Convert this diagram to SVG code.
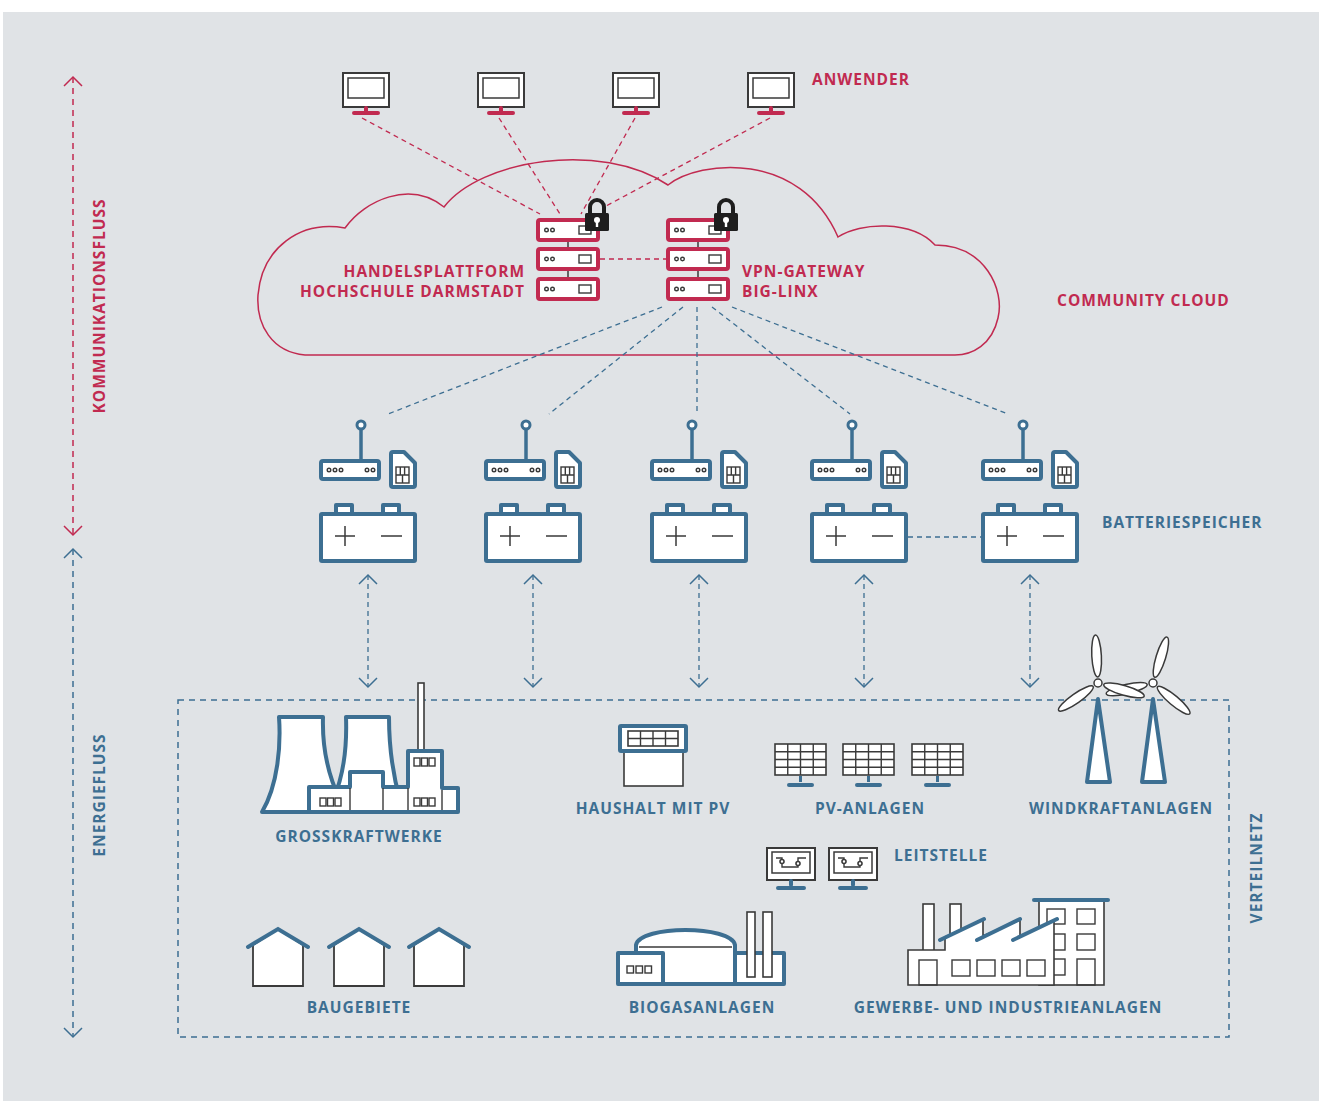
<svg xmlns="http://www.w3.org/2000/svg" width="1319" height="1101" viewBox="0 0 1319 1101">
  <style>
    .lbl{font-family:"Open Sans","DejaVu Sans",sans-serif;font-weight:700;font-size:15.5px;letter-spacing:1px}
    .red{fill:#c12a50}
    .blue{fill:#3d6f92}
    .bt{fill:#fff;stroke:#3d6f92;stroke-width:4;stroke-linejoin:round}
    .rt{fill:#fff;stroke:#c12a50;stroke-width:4;stroke-linejoin:round}
    .ln{fill:#fff;stroke:#3a3a3a;stroke-width:1.6}
    .lnn{fill:none;stroke:#3a3a3a;stroke-width:1.4}
    .dr{fill:none;stroke:#c12a50;stroke-width:1.3;stroke-dasharray:5 4}
    .db{fill:none;stroke:#3d6f92;stroke-width:1.3;stroke-dasharray:5 4}
    .bs{fill:none;stroke:#3d6f92;stroke-width:4;stroke-linecap:round}
    .rs{fill:none;stroke:#c12a50;stroke-width:4;stroke-linecap:round}
    .blade{fill:#fff;stroke:#3a3a3a;stroke-width:1.5}
  </style>
  <defs>
    <marker id="ahr" markerUnits="userSpaceOnUse" markerWidth="24" markerHeight="24" viewBox="-12 -12 24 24" refX="0" refY="0" orient="auto-start-reverse">
      <path d="M-9,-9 L0,0 L-9,9" fill="none" stroke="#c12a50" stroke-width="1.5"/>
    </marker>
    <marker id="ahb" markerUnits="userSpaceOnUse" markerWidth="24" markerHeight="24" viewBox="-12 -12 24 24" refX="0" refY="0" orient="auto-start-reverse">
      <path d="M-9,-9 L0,0 L-9,9" fill="none" stroke="#3d6f92" stroke-width="1.5"/>
    </marker>
    <!-- user workstation -->
    <g id="pc">
      <rect x="-23" y="0" width="46" height="34" fill="#fff" stroke="#3a3a3a" stroke-width="2"/>
      <rect x="-18" y="5" width="36" height="20" fill="#fff" stroke="#3a3a3a" stroke-width="1.5"/>
      <path d="M0,35 V39 M-12,40 H12" class="rs"/>
    </g>
    <!-- control room monitor -->
    <g id="ctl">
      <rect x="-24" y="0" width="48" height="32" fill="#fff" stroke="#3a3a3a" stroke-width="2"/>
      <rect x="-19" y="4" width="38" height="21" fill="#fff" stroke="#3a3a3a" stroke-width="1.5"/>
      <path d="M-15,10 H-9 V19 H7 V10 H15" class="lnn"/>
      <circle cx="-9" cy="13.5" r="2" class="ln" stroke-width="1.2"/>
      <circle cx="7" cy="15.5" r="2" class="ln" stroke-width="1.2"/>
      <path d="M0,33 V37 M-13,40 H13" class="bs"/>
    </g>
    <!-- server unit -->
    <g id="srv">
      <rect x="0" y="0" width="60" height="20" rx="2" class="rt"/>
      <circle cx="8.5" cy="10" r="1.8" class="lnn" stroke-width="1.2"/>
      <circle cx="14.5" cy="10" r="1.8" class="lnn" stroke-width="1.2"/>
      <rect x="41" y="6" width="12" height="8" class="lnn" stroke-width="1.3"/>
    </g>
    <!-- padlock -->
    <g id="lock">
      <path d="M5,1 V-6 a7,7 0 0 1 14,0 V1" fill="none" stroke="#1e1e1e" stroke-width="4"/>
      <rect x="0" y="0" width="24" height="18" rx="1.5" fill="#1e1e1e"/>
      <circle cx="12" cy="7" r="3" fill="#fff"/>
      <rect x="10.8" y="8" width="2.4" height="6" fill="#fff"/>
    </g>
    <!-- modem, SIM card and battery -->
    <g id="store">
      <line x1="361" y1="459" x2="361" y2="429" stroke="#3d6f92" stroke-width="3.5"/>
      <circle cx="361" cy="425" r="4" fill="#fff" stroke="#3d6f92" stroke-width="3"/>
      <rect x="321" y="461" width="58" height="18" rx="2" class="bt"/>
      <g class="lnn" stroke-width="1.2">
        <circle cx="329" cy="470" r="1.8"/><circle cx="335" cy="470" r="1.8"/><circle cx="341" cy="470" r="1.8"/>
        <circle cx="367" cy="470" r="1.8"/><circle cx="373" cy="470" r="1.8"/>
      </g>
      <path d="M393,452 H404 L415,463 V485 Q415,487 413,487 H393 Q391,487 391,485 V454 Q391,452 393,452 Z" class="bt"/>
      <rect x="396" y="467" width="13" height="16" class="lnn" stroke-width="1.2"/>
      <path d="M396,475 H409 M400.3,467 V475 M404.6,467 V475 M402.5,475 V483" class="lnn" stroke-width="1.2"/>
      <rect x="336" y="505" width="16" height="9" class="bt" stroke-width="3.5"/>
      <rect x="383" y="505" width="16" height="9" class="bt" stroke-width="3.5"/>
      <rect x="321" y="514" width="94" height="47" rx="1" class="bt"/>
      <path d="M335,536 H355 M345,526 V546 M381,536 H402" stroke="#3a3a3a" stroke-width="1.5"/>
    </g>
    <!-- detached house -->
    <g id="haus">
      <path d="M253,986 V945 L278,929 L303,945 V986 Z" fill="#fff" stroke="#3a3a3a" stroke-width="1.8"/>
      <path d="M248,947 L278,929 L308,947" class="bs" stroke-width="4.5"/>
    </g>
    <!-- solar panel on stand -->
    <g id="pv">
      <rect x="775" y="744" width="51" height="31" class="ln"/>
      <path d="M787.75,744 V775 M800.5,744 V775 M813.25,744 V775 M775,751.75 H826 M775,759.5 H826 M775,767.25 H826" class="lnn" stroke-width="1.3"/>
      <path d="M800.5,776 V782" stroke="#3d6f92" stroke-width="3"/>
      <path d="M789,785 H812" class="bs"/>
    </g>
    <g id="blade">
      <ellipse cx="27" cy="0" rx="21" ry="4.8" class="blade"/>
    </g>
  </defs>

  <!-- backdrop -->
  <rect x="0" y="0" width="1319" height="1101" fill="#fff"/>
  <rect x="3" y="12" width="1316" height="1089" fill="#e0e3e6"/>

  <!-- community cloud outline -->
  <g id="community-cloud">
    <path d="M305,355 C272,352 256,325 258,295 C262,248 300,220 345,228 C365,200 410,180 444,207 C480,160 600,140 668,185 C700,160 800,150 838,237 C860,222 912,220 935,245 C985,245 1005,290 998,318 C992,345 972,355 955,355 Z" fill="none" stroke="#c12a50" stroke-width="1.5"/>
    <text class="lbl red" x="1057" y="306">COMMUNITY CLOUD</text>
  </g>

  <!-- flow axes -->
  <g id="axes">
    <line x1="73" y1="77" x2="73" y2="535" stroke="#c12a50" stroke-width="1.5" stroke-dasharray="6 5" marker-start="url(#ahr)" marker-end="url(#ahr)"/>
    <line x1="73" y1="549" x2="73" y2="1037" stroke="#3d6f92" stroke-width="1.5" stroke-dasharray="6 5" marker-start="url(#ahb)" marker-end="url(#ahb)"/>
    <text class="lbl red" text-anchor="middle" transform="translate(105,306) rotate(-90)">KOMMUNIKATIONSFLUSS</text>
    <text class="lbl blue" text-anchor="middle" transform="translate(105,795) rotate(-90)">ENERGIEFLUSS</text>
  </g>

  <!-- connectors -->
  <g id="connectors">
    <path d="M362,118 L540,214 M499,118 L560,214 M635,118 L581,214 M770,118 L606,206" class="dr"/>
    <path d="M600,259 H666" class="dr"/>
    <path d="M662,307 L388,414 M683,307 L549,414 M697,307 V414 M712,307 L850,414 M732,307 L1008,414" class="db"/>
    <path d="M908,537 H981" class="db"/>
    <g class="db" stroke-dasharray="4 4" marker-start="url(#ahb)" marker-end="url(#ahb)">
      <line x1="368" y1="575" x2="368" y2="687"/>
      <line x1="533" y1="575" x2="533" y2="687"/>
      <line x1="699" y1="575" x2="699" y2="687"/>
      <line x1="864" y1="575" x2="864" y2="687"/>
      <line x1="1030" y1="575" x2="1030" y2="687"/>
    </g>
  </g>

  <!-- users -->
  <g id="anwender">
    <use href="#pc" transform="translate(366,73)"/>
    <use href="#pc" transform="translate(501,73)"/>
    <use href="#pc" transform="translate(636,73)"/>
    <use href="#pc" transform="translate(771,73)"/>
    <text class="lbl red" x="812" y="85">ANWENDER</text>
  </g>

  <!-- trading platform -->
  <g id="handelsplattform">
    <line x1="568" y1="238" x2="568" y2="282" stroke="#3a3a3a" stroke-width="1.5"/>
    <use href="#srv" x="538" y="220"/>
    <use href="#srv" x="538" y="249"/>
    <use href="#srv" x="538" y="279"/>
    <use href="#lock" x="585" y="213"/>
    <text class="lbl red" text-anchor="end" x="525" y="277">HANDELSPLATTFORM</text>
    <text class="lbl red" text-anchor="end" x="525" y="297">HOCHSCHULE DARMSTADT</text>
  </g>

  <!-- VPN gateway -->
  <g id="vpn-gateway">
    <line x1="698" y1="238" x2="698" y2="282" stroke="#3a3a3a" stroke-width="1.5"/>
    <use href="#srv" x="668" y="220"/>
    <use href="#srv" x="668" y="249"/>
    <use href="#srv" x="668" y="279"/>
    <use href="#lock" x="714" y="213"/>
    <text class="lbl red" x="742" y="277">VPN-GATEWAY</text>
    <text class="lbl red" x="742" y="297">BIG-LINX</text>
  </g>

  <!-- battery storage units -->
  <g id="speicher-1"><use href="#store"/></g>
  <g id="speicher-2"><use href="#store" x="165"/></g>
  <g id="speicher-3"><use href="#store" x="331"/></g>
  <g id="speicher-4"><use href="#store" x="491"/></g>
  <g id="speicher-5"><use href="#store" x="662"/></g>
  <text class="lbl blue" x="1102" y="528">BATTERIESPEICHER</text>

  <!-- distribution grid -->
  <g id="verteilnetz">
    <rect x="178" y="700" width="1051" height="337" fill="none" stroke="#3d6f92" stroke-width="1.5" stroke-dasharray="6 5"/>
    <text class="lbl blue" text-anchor="middle" transform="translate(1262,868) rotate(-90)">VERTEILNETZ</text>
  </g>

  <!-- power plant -->
  <g id="grosskraftwerke">
    <rect x="418" y="683" width="6" height="70" class="ln" stroke-width="1.5"/>
    <path d="M262,812 C278,785 281,745 279,717 H323 C322,750 328,775 340,800 V812 Z" class="bt"/>
    <path d="M333,800 C344,775 347,745 346,717 H389 C389,750 393,775 400,800 V812 Z" class="bt"/>
    <path d="M309,812 V787 H350 V772 H383 V787 H408 V751 H442 V788 H458 V812 Z" class="bt"/>
    <path d="M350,788 V810 M383,788 V810 M408,788 V810 M442,790 V810" class="lnn" stroke-width="1.6"/>
    <g class="lnn" stroke-width="1.3">
      <rect x="320" y="798" width="6" height="8"/><rect x="327.5" y="798" width="6" height="8"/><rect x="335" y="798" width="6" height="8"/>
      <rect x="414" y="758" width="6" height="8"/><rect x="421.5" y="758" width="6" height="8"/><rect x="429" y="758" width="6" height="8"/>
      <rect x="414" y="798" width="6" height="8"/><rect x="421.5" y="798" width="6" height="8"/><rect x="429" y="798" width="6" height="8"/>
    </g>
    <text class="lbl blue" text-anchor="middle" x="359" y="842">GROSSKRAFTWERKE</text>
  </g>

  <!-- household with PV -->
  <g id="haushalt-pv">
    <rect x="624" y="752" width="59" height="34" class="ln"/>
    <rect x="620" y="726" width="66" height="25" rx="1" class="bt"/>
    <rect x="628" y="731" width="50" height="15" class="ln" stroke-width="1.4"/>
    <path d="M640.5,731 V746 M653,731 V746 M665.5,731 V746 M628,738.5 H678" class="lnn" stroke-width="1.3"/>
    <text class="lbl blue" text-anchor="middle" x="653" y="814">HAUSHALT MIT PV</text>
  </g>

  <!-- PV plants -->
  <g id="pv-anlagen">
    <use href="#pv"/>
    <use href="#pv" x="68"/>
    <use href="#pv" x="137"/>
    <text class="lbl blue" text-anchor="middle" x="870" y="814">PV-ANLAGEN</text>
  </g>

  <!-- wind turbines -->
  <g id="windkraftanlagen">
    <path d="M1098,699 L1110,782 H1087 Z" class="bt"/>
    <path d="M1153,699 L1165,782 H1142 Z" class="bt"/>
    <use href="#blade" transform="translate(1098,683) rotate(-93)"/>
    <use href="#blade" transform="translate(1098,683) rotate(145)"/>
    <use href="#blade" transform="translate(1153,683) rotate(167)"/>
    <use href="#blade" transform="translate(1098,683) rotate(16)"/>
    <use href="#blade" transform="translate(1153,683) rotate(-73)"/>
    <use href="#blade" transform="translate(1153,683) rotate(40)"/>
    <circle cx="1098" cy="683" r="4" class="blade"/>
    <circle cx="1153" cy="683" r="4" class="blade"/>
    <text class="lbl blue" text-anchor="middle" x="1121" y="814">WINDKRAFTANLAGEN</text>
  </g>

  <!-- control centre -->
  <g id="leitstelle">
    <use href="#ctl" transform="translate(791,848)"/>
    <use href="#ctl" transform="translate(853,848)"/>
    <text class="lbl blue" x="894" y="861">LEITSTELLE</text>
  </g>

  <!-- building areas -->
  <g id="baugebiete">
    <use href="#haus"/>
    <use href="#haus" x="81"/>
    <use href="#haus" x="161"/>
    <text class="lbl blue" text-anchor="middle" x="359" y="1013">BAUGEBIETE</text>
  </g>

  <!-- biogas plant -->
  <g id="biogasanlagen">
    <path d="M636,984 V945 C640,925 731,925 735,945 V984 Z" class="bt"/>
    <path d="M639,947 H732" class="lnn" stroke-width="1.5"/>
    <rect x="618" y="953" width="45" height="31" class="bt"/>
    <rect x="735" y="953" width="49" height="31" class="bt"/>
    <rect x="747" y="912" width="8" height="65" class="ln" stroke-width="1.5"/>
    <rect x="763" y="912" width="9" height="65" class="ln" stroke-width="1.5"/>
    <g class="lnn" stroke-width="1.3">
      <rect x="627" y="966" width="6.5" height="7"/><rect x="636" y="966" width="6.5" height="7"/><rect x="645" y="966" width="6.5" height="7"/>
    </g>
    <text class="lbl blue" text-anchor="middle" x="702" y="1013">BIOGASANLAGEN</text>
  </g>

  <!-- commercial and industrial sites -->
  <g id="gewerbe-industrie">
    <rect x="1039" y="900" width="65" height="85" class="ln" stroke-width="1.8"/>
    <g class="lnn" stroke-width="1.6">
      <rect x="1047" y="909" width="18" height="15"/><rect x="1077" y="909" width="18" height="15"/>
      <rect x="1047" y="934" width="18" height="16"/><rect x="1077" y="934" width="18" height="16"/>
      <rect x="1047" y="959" width="18" height="16"/><rect x="1077" y="959" width="18" height="26"/>
    </g>
    <path d="M1034,900 H1108" class="bs" stroke-width="4.5"/>
    <rect x="923" y="904" width="11" height="48" class="ln" stroke-width="1.8"/>
    <rect x="950" y="904" width="11" height="36" class="ln" stroke-width="1.8"/>
    <path d="M908,985 V950 H945 V937 L983,920 V936 L1020,920 V936 L1054,921 V985 Z" class="ln" stroke-width="1.8"/>
    <path d="M940,940 L984,919 M977,940 L1020,919 M1013,940 L1057,919" class="bs" stroke-width="4.5"/>
    <g class="lnn" stroke-width="1.6">
      <rect x="919" y="960" width="18" height="25"/>
      <rect x="952" y="960" width="18" height="16"/><rect x="977" y="960" width="18" height="16"/>
      <rect x="1002" y="960" width="18" height="16"/><rect x="1027" y="960" width="18" height="16"/>
    </g>
    <text class="lbl blue" text-anchor="middle" x="1008" y="1013">GEWERBE- UND INDUSTRIEANLAGEN</text>
  </g>
</svg>
